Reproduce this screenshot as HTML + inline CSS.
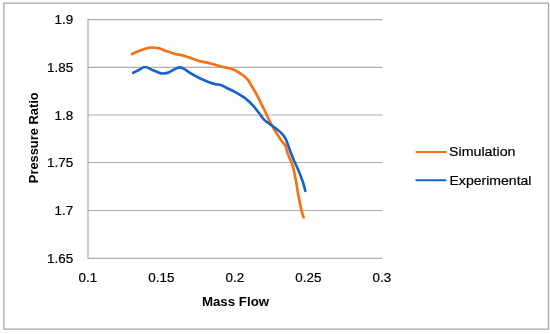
<!DOCTYPE html>
<html><head><meta charset="utf-8"><title>Pressure Ratio vs Mass Flow</title>
<style>
html,body{margin:0;padding:0;background:#fff;}
svg{display:block;font-family:"Liberation Sans",sans-serif;}
</style></head>
<body>
<svg width="550" height="334" viewBox="0 0 550 334">
<rect x="0" y="0" width="550" height="334" fill="#fff"/>
<rect x="3.9" y="3.05" width="544.6" height="326.05" rx="0.4" fill="#fff" stroke="#a6a6a6" stroke-width="1.3"/>
<g stroke="#adadad" stroke-width="1.2" fill="none"><line x1="87.7" y1="19.60" x2="382.3" y2="19.60"/><line x1="87.7" y1="67.45" x2="382.3" y2="67.45"/><line x1="87.7" y1="115.00" x2="382.3" y2="115.00"/><line x1="87.7" y1="162.50" x2="382.3" y2="162.50"/><line x1="87.7" y1="210.50" x2="382.3" y2="210.50"/><line x1="87.7" y1="258.30" x2="382.3" y2="258.30"/><line x1="88.0" y1="19" x2="88.0" y2="258.9"/></g>
<path d="M131.9 54.1 C132.7 53.7 135.0 52.5 136.5 51.9 C138.0 51.3 139.4 50.9 141.0 50.3 C142.6 49.7 144.2 49.0 146.0 48.5 C147.8 48.0 149.8 47.5 152.0 47.5 C154.2 47.5 156.7 47.7 159.0 48.3 C161.3 48.9 163.5 50.1 166.1 51.0 C168.7 51.9 171.7 52.9 174.5 53.7 C177.3 54.5 180.1 54.8 182.9 55.6 C185.7 56.4 188.5 57.3 191.3 58.3 C194.1 59.2 196.9 60.6 199.7 61.3 C202.5 62.0 205.2 62.1 207.9 62.7 C210.6 63.3 213.4 64.2 216.1 65.0 C218.8 65.8 221.7 66.5 224.3 67.2 C226.9 67.9 229.8 68.3 231.7 68.9 C233.6 69.5 234.7 70.1 236.0 70.8 C237.3 71.5 238.1 72.1 239.6 73.1 C241.1 74.1 243.4 75.5 244.8 76.7 C246.2 77.9 247.2 78.8 248.2 80.1 C249.2 81.4 249.8 82.7 250.7 84.3 C251.6 85.9 252.8 87.8 253.8 89.6 C254.8 91.3 255.9 93.1 256.8 94.8 C257.7 96.5 258.3 97.8 259.2 99.6 C260.1 101.4 261.1 103.5 262.2 105.6 C263.2 107.7 264.4 109.9 265.5 112.3 C266.6 114.7 267.8 117.2 269.0 119.7 C270.2 122.2 271.6 124.8 273.0 127.3 C274.4 129.8 276.0 132.2 277.5 134.6 C279.0 137.0 280.7 139.7 282.0 141.5 C283.3 143.3 284.6 144.1 285.3 145.4 C286.1 146.7 286.1 147.9 286.5 149.3 C286.9 150.7 287.3 152.2 287.8 153.6 C288.3 155.0 288.8 156.4 289.5 158.0 C290.2 159.6 291.1 161.2 291.8 163.2 C292.5 165.2 293.1 167.2 293.8 170.2 C294.5 173.2 295.2 177.0 296.0 181.2 C296.8 185.4 297.5 190.7 298.4 195.4 C299.3 200.1 300.4 205.9 301.3 209.6 C302.2 213.2 303.2 216.0 303.6 217.3" fill="none" stroke="#fb6f12" stroke-width="2.65" stroke-linecap="round" stroke-linejoin="round"/>
<path d="M133.3 72.8 C134.3 72.3 137.2 70.8 139.2 69.8 C141.2 68.8 143.0 67.0 145.1 67.0 C147.2 67.0 149.5 68.7 151.6 69.6 C153.7 70.5 155.9 71.6 157.9 72.3 C159.9 73.0 161.5 73.6 163.5 73.5 C165.5 73.4 167.8 72.7 169.8 71.9 C171.8 71.1 173.9 69.5 175.6 68.8 C177.3 68.0 178.4 67.4 179.9 67.4 C181.4 67.5 182.5 68.0 184.4 69.1 C186.3 70.1 188.8 72.2 191.3 73.7 C193.9 75.2 196.8 76.8 199.7 78.2 C202.5 79.6 205.7 80.9 208.4 81.9 C211.1 82.9 213.6 83.7 215.7 84.2 C217.8 84.7 219.1 84.3 221.0 85.0 C222.9 85.7 224.9 87.0 227.3 88.2 C229.7 89.4 232.8 90.8 235.6 92.3 C238.4 93.8 241.2 95.3 244.0 97.4 C246.8 99.5 250.0 102.4 252.4 104.9 C254.8 107.4 256.6 109.8 258.5 112.3 C260.4 114.8 262.3 117.8 264.0 119.6 C265.7 121.4 267.0 121.9 268.5 123.0 C270.0 124.1 271.5 125.3 273.0 126.4 C274.5 127.5 276.0 128.6 277.5 129.8 C279.0 131.0 280.6 132.2 281.9 133.7 C283.2 135.2 284.4 136.6 285.5 138.6 C286.6 140.6 287.3 143.0 288.2 145.4 C289.1 147.8 289.9 150.4 290.9 153.0 C291.9 155.6 293.1 158.3 294.3 161.2 C295.6 164.1 297.0 166.9 298.4 170.3 C299.8 173.7 301.5 178.1 302.7 181.5 C303.9 184.9 304.9 189.3 305.3 190.9" fill="none" stroke="#1763c9" stroke-width="2.65" stroke-linecap="round" stroke-linejoin="round"/>
<g font-size="13.4px" fill="#000" stroke="#000" stroke-width="0.2"><text x="73.1" y="24.2" text-anchor="end">1.9</text><text x="73.1" y="72.0" text-anchor="end">1.85</text><text x="73.1" y="119.6" text-anchor="end">1.8</text><text x="73.1" y="167.1" text-anchor="end">1.75</text><text x="73.1" y="215.1" text-anchor="end">1.7</text><text x="73.1" y="262.9" text-anchor="end">1.65</text><text x="87.8" y="282.3" text-anchor="middle">0.1</text><text x="161.3" y="282.3" text-anchor="middle">0.15</text><text x="234.8" y="282.3" text-anchor="middle">0.2</text><text x="308.3" y="282.3" text-anchor="middle">0.25</text><text x="381.8" y="282.3" text-anchor="middle">0.3</text></g>
<text x="235.5" y="306.3" text-anchor="middle" font-size="13.3px" font-weight="bold" fill="#000">Mass Flow</text>
<text transform="translate(38.1 183.2) rotate(-90)" font-size="13.3px" font-weight="bold" fill="#000" textLength="90.8" lengthAdjust="spacingAndGlyphs">Pressure Ratio</text>
<line x1="416.4" y1="151.9" x2="445.6" y2="151.9" stroke="#fb6f12" stroke-width="2" stroke-linecap="round"/>
<line x1="416.4" y1="180.2" x2="445.6" y2="180.2" stroke="#1763c9" stroke-width="2" stroke-linecap="round"/>
<g font-size="13.5px" fill="#000" stroke="#000" stroke-width="0.2"><text x="449" y="156.4" textLength="66.5" lengthAdjust="spacingAndGlyphs">Simulation</text><text x="449.5" y="184.5" textLength="82" lengthAdjust="spacingAndGlyphs">Experimental</text></g>
</svg>
</body></html>
